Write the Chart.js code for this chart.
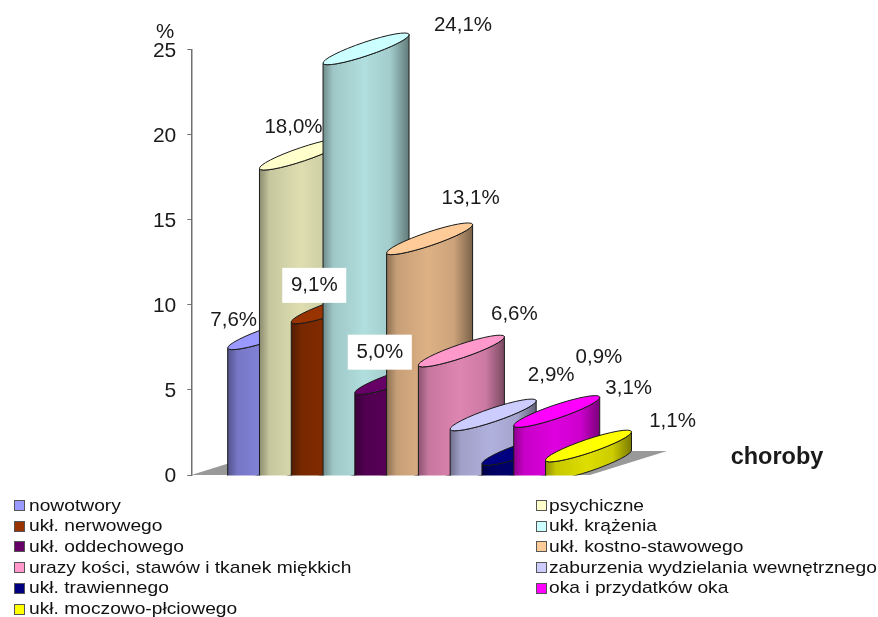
<!DOCTYPE html>
<html lang="pl"><head><meta charset="utf-8">
<script src="https://cdn.jsdelivr.net/npm/chart.js@4"></script>
<style>
html,body{margin:0;padding:0;background:#fff;width:878px;height:617px;overflow:hidden}
#wrap{position:relative;width:878px;height:617px}
canvas{position:absolute;left:0;top:0}
.li{position:absolute;font:17px "Liberation Sans",Arial,sans-serif;color:#111;line-height:20px;white-space:nowrap;transform:scaleX(1.13);transform-origin:left center}
.sw{position:absolute;width:9px;height:9px;border:1px solid #555}
</style></head><body>
<div id="wrap"><canvas id="c" width="878" height="617"></canvas><div id="legend"></div></div>
<script>
const categories=["nowotwory","psychiczne","ukł. nerwowego","ukł. krążenia","ukł. oddechowego","ukł. kostno-stawowego","urazy kości, stawów i tkanek miękkich","zaburzenia wydzielania wewnętrznego","ukł. trawiennego","oka i przydatków oka","ukł. moczowo-płciowego"];
const values=[7.6,18.0,9.1,24.1,5.0,13.1,6.6,2.9,0.9,3.1,1.1];
const valueLabels=["7,6%","18,0%","9,1%","24,1%","5,0%","13,1%","6,6%","2,9%","0,9%","3,1%","1,1%"];
const colors=["#9999ff","#ffffcc","#993300","#ccffff","#660066","#ffcc99","#ff99cc","#ccccff","#000080","#ff00ff","#ffff00"];
const yTicks=[0,5,10,15,20,25];

const FONT='"Liberation Sans",Arial,sans-serif';
const OBLIQUE_W=86, OBLIQUE_H=29, MINOR=6.8, BASE_DROP=4.5, HEIGHT_GAIN=1.015;
// label centre relative to the bar's front-left top corner, and whether it has a white plate
const labelPlace=[[6,-28],[34,-41],[23,-37,1],[140,-38],[25,-41,1],[84,-55],[96,-51],[101,-54],[117,-107],[115,-38],[127,-39]];

function shade(hex,f){
  const n=parseInt(hex.slice(1),16);
  const c=[n>>16&255,n>>8&255,n&255].map(v=>Math.round(v*f));
  return `rgb(${c[0]},${c[1]},${c[2]})`;
}
const cylinders={
  id:'cylinders',
  beforeDatasetsDraw(chart){
    const ctx=chart.ctx,y0=chart.scales.y.getPixelForValue(0),a=chart.chartArea;
    ctx.save();ctx.fillStyle='#999999';ctx.beginPath();
    ctx.moveTo(a.left,y0);ctx.lineTo(a.right,y0);ctx.lineTo(a.right+77,y0-24);ctx.lineTo(a.left+77,y0-24);ctx.closePath();ctx.fill();ctx.restore();
  },
  beforeDatasetDraw(chart){
    const ctx=chart.ctx,meta=chart.getDatasetMeta(0),y0=chart.scales.y.getPixelForValue(0);
    const rot=Math.atan2(-OBLIQUE_H,OBLIQUE_W),a=Math.hypot(OBLIQUE_W,OBLIQUE_H)/2;
    meta.data.forEach((el,i)=>{
      const left=el.x-el.width/2,h=el.base-el.y,baseY=el.base+BASE_DROP,topY=baseY-h*HEIGHT_GAIN;
      const cx=left+OBLIQUE_W/2,dy=OBLIQUE_H/2,col=colors[i];
      ctx.save();
      ctx.beginPath();ctx.rect(0,0,878,y0+.5);ctx.clip();
      const g=ctx.createLinearGradient(left,0,left+OBLIQUE_W,0);
      g.addColorStop(0,shade(col,.55));g.addColorStop(.12,shade(col,.78));g.addColorStop(.48,shade(col,.87));
      g.addColorStop(.78,shade(col,.8));g.addColorStop(1,shade(col,.48));
      ctx.beginPath();ctx.moveTo(left,topY);ctx.lineTo(left,baseY);
      ctx.ellipse(cx,baseY-dy,a,MINOR,rot,Math.PI,0,true);
      ctx.lineTo(left+OBLIQUE_W,topY-OBLIQUE_H);
      ctx.ellipse(cx,topY-dy,a,MINOR,rot,0,Math.PI,false);
      ctx.closePath();ctx.fillStyle=g;ctx.fill();
      ctx.strokeStyle='#1a1a1a';ctx.lineWidth=1;ctx.stroke();
      ctx.beginPath();ctx.ellipse(cx,topY-dy,a,MINOR,rot,0,Math.PI*2);
      ctx.fillStyle=col;ctx.fill();ctx.stroke();
      ctx.restore();
    });
    return false;
  },
  afterDraw(chart){
    const ctx=chart.ctx,meta=chart.getDatasetMeta(0);
    ctx.save();ctx.textAlign='center';ctx.textBaseline='middle';ctx.font='20.5px '+FONT;
    meta.data.forEach((el,i)=>{
      const left=el.x-el.width/2,h=el.base-el.y,topY=el.base+BASE_DROP-h*HEIGHT_GAIN;
      const [dx,dy,plate]=labelPlace[i],px=left+dx,py=topY+dy;
      if(plate){ctx.fillStyle='#fff';ctx.fillRect(px-32,py-17.5,64,35);}
      ctx.fillStyle='#1a1a1a';ctx.fillText(valueLabels[i],px,py);
    });
    ctx.fillText('%',165,32);
    ctx.font='bold 23.5px '+FONT;ctx.fillText('choroby',777,458);
    ctx.restore();
  }
};
new Chart(document.getElementById('c'),{
  type:'bar',
  data:{datasets:[{data:values.map((v,i)=>({x:i,y:v})),backgroundColor:colors,barPercentage:1,categoryPercentage:1}]},
  plugins:[cylinders],
  options:{
    responsive:false,animation:false,devicePixelRatio:1,
    layout:{padding:{left:0,right:288,top:49.7,bottom:142}},
    plugins:{legend:{display:false},tooltip:{enabled:false}},
    scales:{
      x:{display:false,type:'linear',min:-1.645,max:10.9,offset:false},
      y:{position:'left',min:0,max:25,
        afterFit(s){s.width=191.3;},
        afterBuildTicks(s){s.ticks=yTicks.map(v=>({value:v}));},
        border:{display:true,color:'#707070',width:1.5},
        grid:{drawOnChartArea:false,drawTicks:true,tickLength:4,color:'#707070'},
        ticks:{padding:11,labelOffset:1.5,color:'#1a1a1a',font:{family:FONT,size:21}}
      }
    }
  }
});
const legend=document.getElementById('legend');
categories.forEach((name,i)=>{
  const row=Math.floor(i/2),col=i%2,top=495.5+row*20.7;
  const sw=document.createElement('div');sw.className='sw';sw.style.cssText=`left:${col?536:14}px;top:${top+4.5}px;background:${colors[i]}`;
  const t=document.createElement('div');t.className='li';t.textContent=name;t.style.cssText=`left:${col?549:29}px;top:${top}px`;
  legend.append(sw,t);
});
</script></body></html>
